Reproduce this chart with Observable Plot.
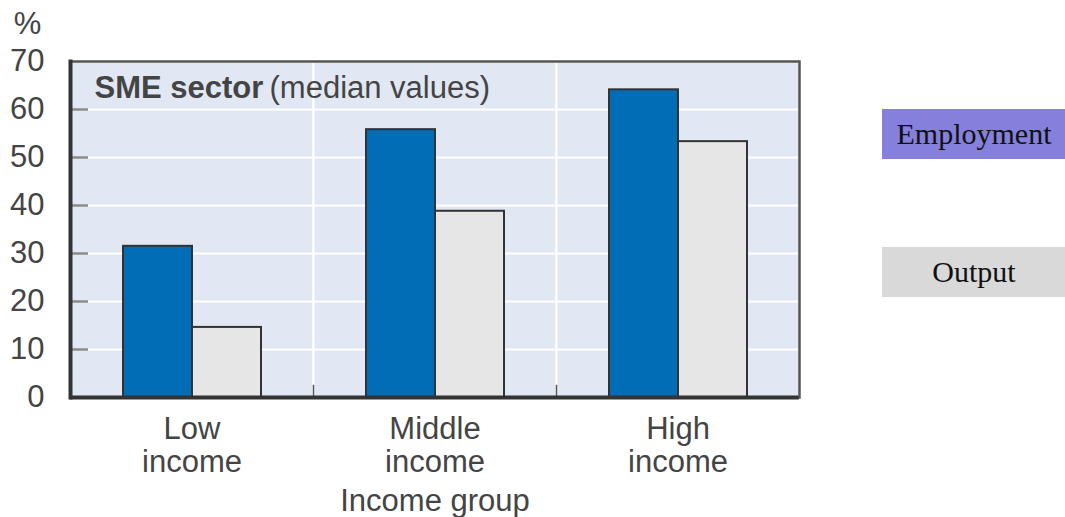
<!DOCTYPE html>
<html><head><meta charset="utf-8">
<script src="https://cdn.jsdelivr.net/npm/d3@7"></script>
<script src="https://cdn.jsdelivr.net/npm/@observablehq/plot@0.6"></script>
<style>
body{margin:0;background:#fff;width:1065px;height:517px;overflow:hidden;position:relative;font-family:"Liberation Sans",Arial,sans-serif}
#chart{position:absolute;left:0;top:0}
.leg{position:absolute;left:882px;width:188px;height:50px;font-family:"Liberation Serif","Times New Roman",serif;font-size:30px;color:#111;display:flex;align-items:center;justify-content:center;box-sizing:border-box;padding-right:4px}
</style></head><body>
<div id="chart"></div>
<div id="legend"></div>
<script>
const groups = ["Low income", "Middle income", "High income"];
const groupLabels = ["Low\nincome", "Middle\nincome", "High\nincome"];
const seriesNames = ["Employment", "Output"];
const employment = [31.5, 55.8, 64.1];
const output = [14.6, 38.8, 53.3];
const yTicks = [0, 10, 20, 30, 40, 50, 60, 70];
const barColors = ["#006db6", "#e6e6e6"];
const legendColors = ["#8480dc", "#d9d9d9"];
const legendTops = [109, 247];

const data = groups.flatMap((g, i) => [
  {group: g, series: seriesNames[0], value: employment[i]},
  {group: g, series: seriesNames[1], value: output[i]}
]);

const textColor = "#444";
const fs = 31;

const chart = Plot.plot({
  width: 860,
  height: 517,
  marginLeft: 70,
  marginRight: 61,
  marginTop: 61,
  marginBottom: 120,
  style: {fontFamily: '"Liberation Sans", Arial, sans-serif', background: "transparent"},
  fx: {domain: groups, padding: 0},
  x: {domain: seriesNames, paddingInner: 0, paddingOuter: 0.76, axis: null},
  y: {domain: [0, 70]},
  color: {domain: seriesNames, range: barColors},
  marks: [
    Plot.frame({fill: "#e1e8f4", stroke: "white", strokeWidth: 2}),
    Plot.gridY(yTicks, {stroke: "white", strokeOpacity: 1, strokeWidth: 2}),
    Plot.ruleY(yTicks.slice(1, -1), {fx: () => groups[0], stroke: "#8a8a8a", strokeWidth: 2.5, insetRight: 225}),
    Plot.axisY(yTicks, {tickSize: 0, tickPadding: 26, fontSize: fs, color: textColor, label: null}),
    Plot.barY(data, {fx: "group", x: "series", y: "value", fill: "series", stroke: "#333", strokeWidth: 2}),
    Plot.frame({anchor: "left", stroke: "#555", strokeWidth: 1.5, insetTop: 324, fx: ["Middle income"]}),
    Plot.frame({anchor: "left", stroke: "#555", strokeWidth: 1.5, insetTop: 324, fx: ["High income"]}),
    Plot.ruleY([0], {stroke: "#333", strokeWidth: 4}),
    Plot.ruleY([70], {stroke: "#555", strokeWidth: 2.5}),
    Plot.frame({anchor: "left", stroke: "#333", strokeWidth: 4, fx: ["Low income"]}),
    Plot.frame({anchor: "right", stroke: "#555", strokeWidth: 2.5, fx: ["High income"]}),
    Plot.axisFx({
      anchor: "bottom", tickSize: 0, tickPadding: 18, fontSize: fs, lineHeight: 1.06, color: textColor,
      tickFormat: d => groupLabels[groups.indexOf(d)],
      label: "Income group", labelAnchor: "center", labelOffset: 113, labelArrow: "none"
    }),
    Plot.text(["SME sector"], {fx: ["Low income"], text: d => d, frameAnchor: "top-left", dx: 24, dy: 27, textAnchor: "start", lineAnchor: "middle", fontWeight: "bold", fontSize: fs, fill: textColor}),
    Plot.text(["(median values)"], {fx: ["Low income"], text: d => d, frameAnchor: "top-left", dx: 199, dy: 27, textAnchor: "start", lineAnchor: "middle", fontSize: fs, fill: textColor}),
    Plot.text(["%"], {fx: ["Low income"], text: d => d, frameAnchor: "top-left", dx: -43, dy: -37, textAnchor: "middle", lineAnchor: "middle", fontSize: fs, fill: textColor})
  ]
});
document.getElementById("chart").append(chart);

const legend = document.getElementById("legend");
seriesNames.forEach((s, i) => {
  const d = document.createElement("div");
  d.className = "leg";
  d.style.top = legendTops[i] + "px";
  d.style.background = legendColors[i];
  d.textContent = s;
  legend.append(d);
});
</script>
</body></html>
